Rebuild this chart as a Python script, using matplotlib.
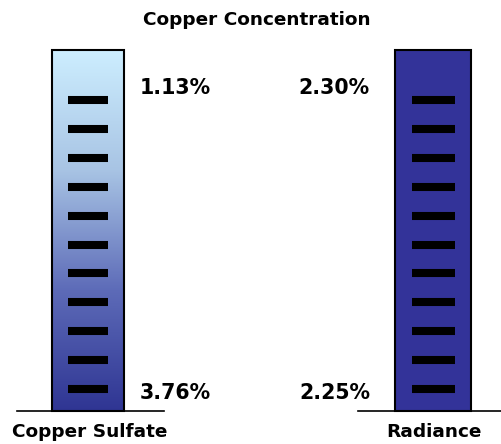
import matplotlib
matplotlib.use("Agg")
import matplotlib.pyplot as plt
import numpy as np
from matplotlib.colors import LinearSegmentedColormap

categories = ["Copper Sulfate", "Radiance"]
top_labels = ["1.13%", "2.30%"]
bottom_labels = ["3.76%", "2.25%"]
title = "Copper Concentration"
n_marks = 11

plt.rcParams['font.family'] = ['DejaVu Sans']

fig = plt.figure(figsize=(5.01, 4.44), dpi=100)
ax = fig.add_axes([0, 0, 1, 1])
ax.set_xlim(0, 501)
ax.set_ylim(444, 0)
ax.axis('off')

tube_x = [52.5, 395]
tube_w = [71.5, 76]
top_y, bot_y = 50, 411
base_x = [(17, 164), (358, 501)]
mark_x = [(68, 108), (412, 455)]

grad = LinearSegmentedColormap.from_list("g", ["#cdeeff", "#a8c4e4", "#5d6bb8", "#2f3593"])

for i, cat in enumerate(categories):
    bars = ax.bar(tube_x[i], bot_y - top_y, width=tube_w[i], bottom=top_y, align='edge',
                  color="#333399" if i == 1 else "none", edgecolor="black", linewidth=1.5, zorder=3)
    if i == 0:
        im = ax.imshow(np.linspace(0, 1, 256).reshape(-1, 1), cmap=grad, aspect='auto',
                       extent=(tube_x[i], tube_x[i] + tube_w[i], bot_y, top_y), zorder=2)
        im.set_clip_path(bars[0])
    ys = np.linspace(100, 389, n_marks)
    for y in ys:
        ax.plot(mark_x[i], [y, y], color="black", linewidth=5.8, solid_capstyle='butt', zorder=4)
    ax.plot(base_x[i], [bot_y, bot_y], color="black", linewidth=1.2, zorder=4)
    cx = [89.5, 434][i]
    ax.text(cx, 432, cat, ha='center', va='center', fontsize=13.3, fontweight='bold')
    if i == 0:
        ax.text(140, 87.5, top_labels[i], ha='left', va='center', fontsize=14.8, fontweight='bold')
        ax.text(140, 392.5, bottom_labels[i], ha='left', va='center', fontsize=14.8, fontweight='bold')
    else:
        ax.text(370, 87.5, top_labels[i], ha='right', va='center', fontsize=14.8, fontweight='bold')
        ax.text(370, 392.5, bottom_labels[i], ha='right', va='center', fontsize=14.8, fontweight='bold')

ax.text(256.5, 20, title, ha='center', va='center', fontsize=13.3, fontweight='bold')

fig.savefig("out.png", dpi=100)
